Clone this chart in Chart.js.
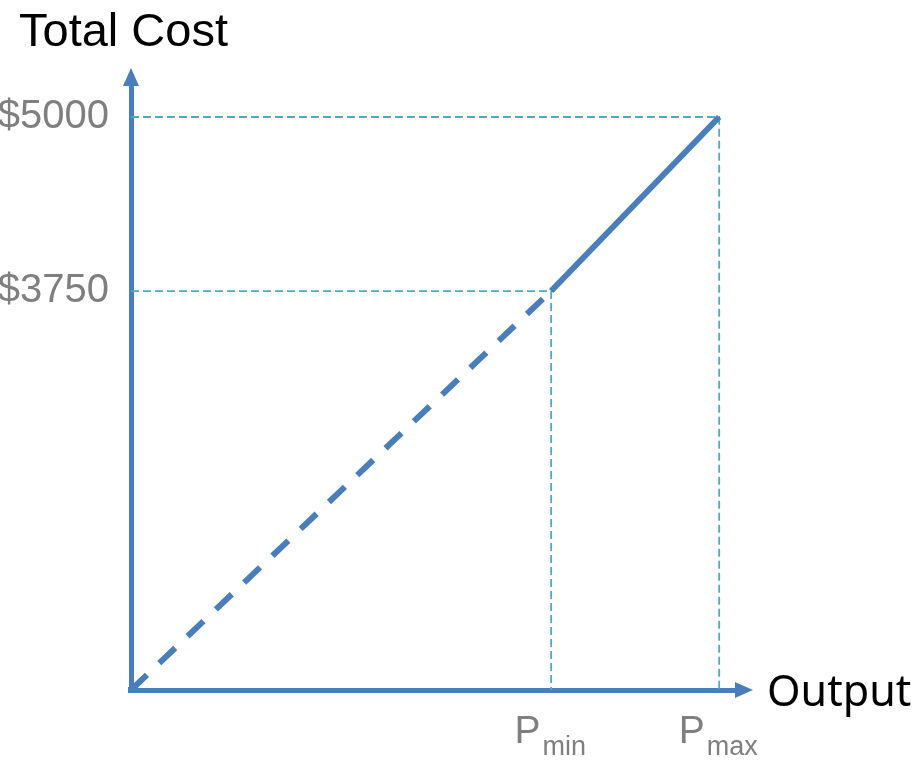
<!DOCTYPE html>
<html>
<head>
<meta charset="utf-8">
<script src="https://cdn.jsdelivr.net/npm/chart.js@4/dist/chart.umd.min.js"></script>
<style>
  html, body { margin: 0; padding: 0; background: #ffffff; }
  #wrap { width: 918px; height: 760px; position: relative; }
</style>
</head>
<body>
<div id="wrap"><canvas id="c"></canvas></div>
<script>
// Output levels: origin, minimum and maximum operating points
const outputPoints = [0, 100, 140];
// Total cost at each output level (the first value is the axis floor)
const costPoints = [884, 3750, 5000];
// Tick labels
const costTicks = [3750, 5000];
const outputTicks = [100, 140];
const outputTickLabels = [['P', 'min'], ['P', 'max']];
// Axis extents
const outputAxisMax = 144;
const costAxisMax = 5230;

const BLUE = '#4a7ebb';
const TEAL = '#4bacc6';
const GREY = '#7f7f7f';

const pt = i => ({ x: outputPoints[i], y: costPoints[i] });

// Extrapolated part of the cost curve below the minimum output (dashed)
const projected = [pt(0), pt(1)];
// Operating range between P_min and P_max (solid)
const operating = [pt(1), pt(2)];
// Reference lines from each tick back to the axes
const guides = costTicks.map((c, i) => [
  { x: 0, y: c },
  { x: outputTicks[i], y: c },
  { x: outputTicks[i], y: costPoints[0] }
]);

const annotate = {
  id: 'annotate',
  afterDraw(chart) {
    const { ctx, chartArea: a, scales: { x, y } } = chart;
    ctx.save();
    // fill the corner where the two axis borders meet
    ctx.fillStyle = BLUE;
    ctx.fillRect(a.left - 3, a.bottom - 3, 6, 6);
    // arrowheads
    const ox = x.getPixelForValue(0);
    const oy = y.getPixelForValue(costPoints[0]);
    ctx.beginPath();
    ctx.moveTo(ox - 8, a.top + 1);
    ctx.lineTo(ox + 8, a.top + 1);
    ctx.lineTo(ox, a.top - 17);
    ctx.closePath();
    ctx.fill();
    ctx.beginPath();
    ctx.moveTo(a.right - 1, oy - 8);
    ctx.lineTo(a.right - 1, oy + 8);
    ctx.lineTo(a.right + 17, oy);
    ctx.closePath();
    ctx.fill();

    // axis titles
    ctx.fillStyle = '#000000';
    ctx.textBaseline = 'alphabetic';
    ctx.textAlign = 'left';
    ctx.font = '47px "Liberation Sans", Arial, sans-serif';
    ctx.fillText('Total Cost', 19, 46);
    ctx.font = '43px "Noto Sans", "Open Sans", sans-serif';
    ctx.fillText('Output', 767, 706);

    // output tick labels with subscripts
    ctx.fillStyle = GREY;
    const mainFont = '39px "Liberation Sans", Arial, sans-serif';
    const subFont = '27px "Liberation Sans", Arial, sans-serif';
    const gap = 2;
    outputTicks.forEach((v, i) => {
      const [main, sub] = outputTickLabels[i];
      ctx.font = mainFont;
      const w1 = ctx.measureText(main).width;
      ctx.font = subFont;
      const w2 = ctx.measureText(sub).width;
      const cx = x.getPixelForValue(v);
      const left = cx - (w1 + gap + w2) / 2 - 1;
      ctx.font = mainFont;
      ctx.fillText(main, left, 743);
      ctx.font = subFont;
      ctx.fillText(sub, left + w1 + gap, 755);
    });
    ctx.restore();
  }
};

new Chart(document.getElementById('c'), {
  type: 'line',
  data: {
    datasets: [
      {
        data: operating,
        borderColor: BLUE,
        borderWidth: 6,
        borderCapStyle: 'butt',
        pointRadius: 0,
        clip: false
      },
      {
        data: projected,
        borderColor: BLUE,
        borderWidth: 6,
        borderDash: [22, 17],
        borderCapStyle: 'butt',
        pointRadius: 0,
        clip: false
      },
      ...guides.map(g => ({
        data: g,
        borderColor: TEAL,
        borderWidth: 1.8,
        borderDash: [8, 4],
        pointRadius: 0,
        clip: false
      }))
    ]
  },
  options: {
    responsive: true,
    maintainAspectRatio: false,
    animation: false,
    events: [],
    layout: { padding: { left: 0, top: 85, right: 182, bottom: 70 } },
    plugins: { legend: { display: false }, tooltip: { enabled: false }, title: { display: false } },
    elements: { line: { tension: 0 } },
    scales: {
      x: {
        type: 'linear',
        min: 0,
        max: outputAxisMax,
        grid: { display: true, drawOnChartArea: false, drawTicks: false },
        border: { display: true, color: BLUE, width: 5 },
        ticks: { display: false },
        afterFit(scale) { scale.height = 0; }
      },
      y: {
        type: 'linear',
        min: costPoints[0],
        max: costAxisMax,
        grid: { display: true, drawOnChartArea: false, drawTicks: false },
        border: { display: true, color: BLUE, width: 5 },
        afterBuildTicks(scale) { scale.ticks = costTicks.map(v => ({ value: v })); },
        ticks: {
          color: GREY,
          padding: 22,
          font: { family: '"Liberation Sans", Arial, sans-serif', size: 40 },
          callback: v => '$' + v
        },
        afterFit(scale) { scale.width = 131; }
      }
    }
  },
  plugins: [annotate]
});
</script>
</body>
</html>
